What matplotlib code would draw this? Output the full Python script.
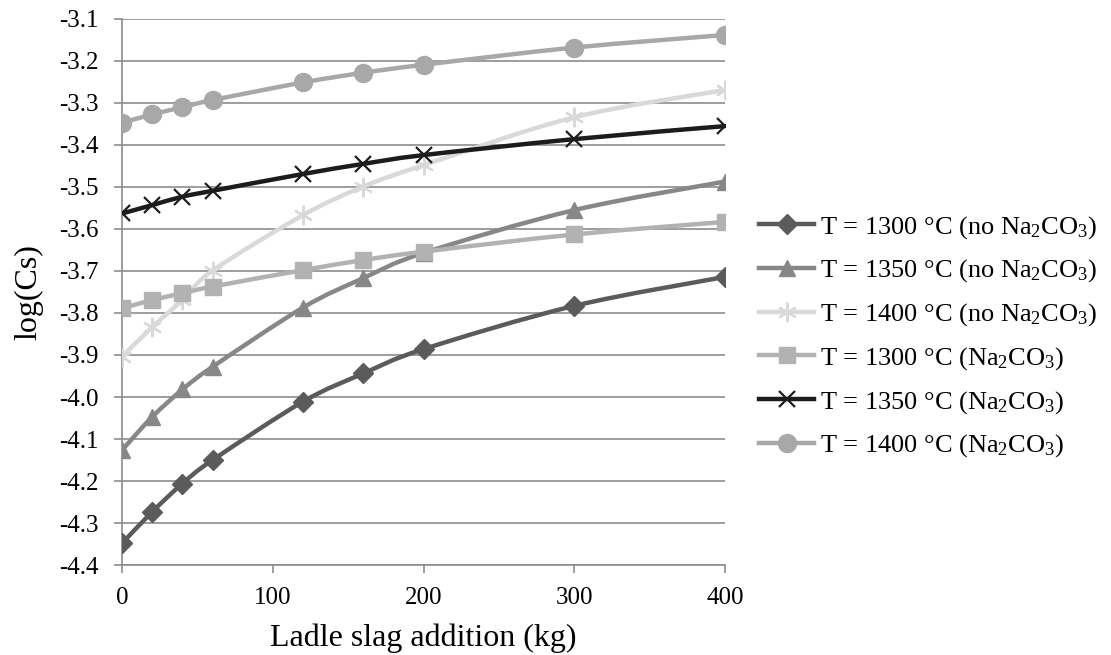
import numpy as np
import matplotlib
matplotlib.use('Agg')
import matplotlib.pyplot as plt
from matplotlib.path import Path
from matplotlib.patches import PathPatch
from matplotlib.lines import Line2D

plt.rcParams['font.family'] = ['Liberation Serif', 'DejaVu Serif']
plt.rcParams['mathtext.fontset'] = 'custom'
plt.rcParams['mathtext.rm'] = 'Liberation Serif'
plt.rcParams['mathtext.it'] = 'Liberation Serif:italic'

# ladle slag addition (kg)
slag = [0, 20, 40, 60, 120, 160, 200, 300, 400]

# log(Cs) for each case
t1300_no = [-4.348, -4.273, -4.206, -4.150, -4.011, -3.944, -3.886, -3.783, -3.714]
t1350_no = [-4.126, -4.047, -3.982, -3.928, -3.787, -3.717, -3.657, -3.555, -3.487]
t1400_no = [-3.904, -3.833, -3.769, -3.699, -3.567, -3.499, -3.448, -3.334, -3.269]
t1300_na = [-3.789, -3.769, -3.753, -3.737, -3.698, -3.674, -3.654, -3.613, -3.583]
t1350_na = [-3.563, -3.543, -3.523, -3.509, -3.469, -3.445, -3.424, -3.386, -3.355]
t1400_na = [-3.347, -3.327, -3.310, -3.293, -3.251, -3.228, -3.209, -3.168, -3.138]

labels = ['T = 1300 °C (no Na$_2$CO$_3$)',
          'T = 1350 °C (no Na$_2$CO$_3$)',
          'T = 1400 °C (no Na$_2$CO$_3$)',
          'T = 1300 °C (Na$_2$CO$_3$)',
          'T = 1350 °C (Na$_2$CO$_3$)',
          'T = 1400 °C (Na$_2$CO$_3$)']

series = [t1300_no, t1350_no, t1400_no, t1300_na, t1350_na, t1400_na]
colors = ['#5b5b5b', '#878787', '#d9d9d9', '#b2b2b2', '#1c1c1c', '#a8a8a8']
markers = ['D', '^', (6, 2, 0), 's', 'x', 'o']
msizes = [10, 12, 14, 12, 12, 13]


def smooth_path(x, y):
    """Catmull-Rom style bezier path through the points (like Excel smoothing)."""
    pts = np.column_stack([x, y]).astype(float)
    n = len(pts)
    verts = [pts[0]]
    codes = [Path.MOVETO]
    for i in range(n - 1):
        p0 = pts[i - 1] if i > 0 else pts[i]
        p1 = pts[i]
        p2 = pts[i + 1]
        p3 = pts[i + 2] if i + 2 < n else pts[i + 1]
        c1 = p1 + (p2 - p0) / 6.0
        c2 = p2 - (p3 - p1) / 6.0
        verts += [c1, c2, p2]
        codes += [Path.CURVE4] * 3
    return Path(verts, codes)


fig = plt.figure(figsize=(11.11, 6.55), dpi=100)
ax = fig.add_axes([0.110, 0.1374, 0.5426, 0.8336])

grid_c = '#8c8c8c'
handles = []
for vals, c, m, ms, lab in zip(series, colors, markers, msizes, labels):
    patch = PathPatch(smooth_path(slag, vals), fill=False, edgecolor=c, lw=3.2,
                      zorder=3)
    ax.add_patch(patch)
    thin = (m == 'x' or isinstance(m, tuple))
    mew = 1.6 if thin else 1
    ax.plot(slag, vals, ls='none', marker=m, ms=ms, color=c, mec=c, mew=mew,
            zorder=4)
    handles.append(Line2D([], [], color=c, lw=3.2, marker=m, ms=ms, mew=mew,
                          mec=c, label=lab))

ax.set_xlim(0, 400)
ax.set_ylim(-4.4, -3.1)
ax.set_xticks([0, 100, 200, 300, 400])
yt = np.round(np.arange(-4.4, -3.05, 0.1), 1)
ax.set_yticks(yt)
ax.set_yticklabels(['%.1f' % v for v in yt])
ax.yaxis.grid(True, color=grid_c, lw=1.2)
ax.set_axisbelow(True)
for s in ['top', 'right']:
    ax.spines[s].set_visible(False)
for s in ['left', 'bottom']:
    ax.spines[s].set_color(grid_c)
    ax.spines[s].set_linewidth(1.2)
ax.tick_params(axis='both', colors=grid_c, length=6, width=1.2,
               labelcolor='black', labelsize=18)
ax.tick_params(axis='x', pad=10)
ax.tick_params(axis='y', pad=11)
ax.set_xlabel('Ladle slag addition (kg)', fontsize=23, labelpad=10)
ax.set_ylabel('log(Cs)', fontsize=23, labelpad=11)
ax.margins(0)
for sp in ax.spines.values():
    sp.set_clip_on(False)

fig.legend(handles=handles, loc='center left', bbox_to_anchor=(0.683, 0.486),
           frameon=False, fontsize=19, handlelength=2.1, handletextpad=0.2,
           labelspacing=0.64, borderpad=0, borderaxespad=0)

fig.savefig('out.png', dpi=100)
